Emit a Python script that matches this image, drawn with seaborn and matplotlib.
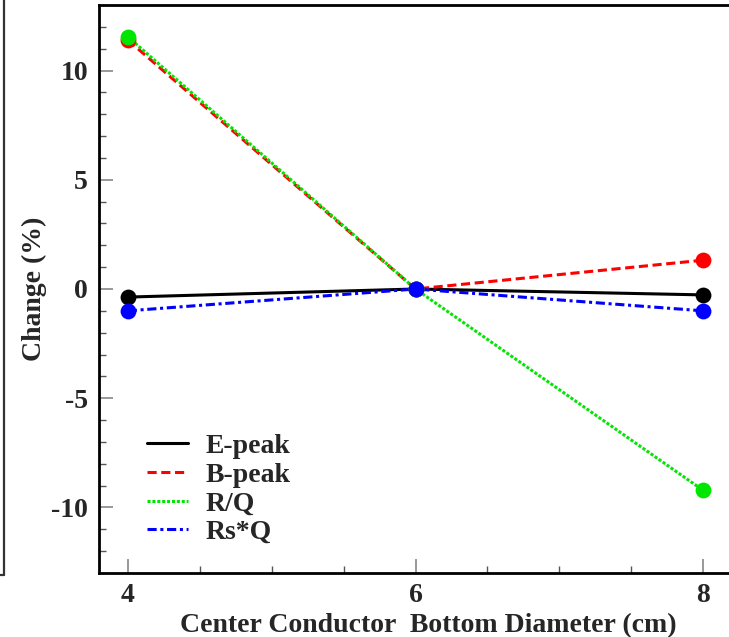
import matplotlib
matplotlib.use("Agg")
import matplotlib.pyplot as plt
from matplotlib.lines import Line2D
from matplotlib.ticker import MultipleLocator
import seaborn as sns
import pandas as pd

# Center conductor bottom diameter (cm) and relative change (%) of each quantity
diameters = [4, 6, 8]
e_peak = [-0.37, 0.0, -0.27]
b_peak = [11.4, 0.0, 1.32]
r_over_q = [11.55, 0.0, -9.22]
rs_q = [-1.0, 0.0, -1.0]

series_names = ["E-peak", "B-peak", "R/Q", "Rs*Q"]
series_values = [e_peak, b_peak, r_over_q, rs_q]
series_colors = ["#000000", "#ff0000", "#00e600", "#0000ff"]
series_dashes = ["-", (0, (3, 1.5)), (0, (1, 0.6)), (0, (3, 1.2, 1, 1.2))]

rows = []
for name, vals in zip(series_names, series_values):
    for d, v in zip(diameters, vals):
        rows.append({"Diameter": d, "Change": v, "Quantity": name})
df = pd.DataFrame(rows)

sns.set_theme(style="white")
plt.rcParams["font.family"] = ["Liberation Serif", "DejaVu Serif"]
plt.rcParams["font.weight"] = "bold"
plt.rcParams["axes.unicode_minus"] = False

fig = plt.figure(figsize=(7.29, 6.37), dpi=100)
ax = fig.add_axes([99 / 729, 1 - 573 / 637, (732 - 99) / 729, (573 - 5) / 637])

for name, color, ls in zip(series_names, series_colors, series_dashes):
    sub = df[df["Quantity"] == name]
    sns.lineplot(data=sub, x="Diameter", y="Change", ax=ax, color=color,
                 linestyle=ls, linewidth=2.2, label=name, legend=False)
for name, color in zip(series_names, series_colors):
    sub = df[df["Quantity"] == name]
    sns.scatterplot(data=sub, x="Diameter", y="Change", ax=ax, color=color,
                    s=130, edgecolor=color, linewidth=0, zorder=5, legend=False)

ax.set_xlim(3.8, 8.2)
ax.set_ylim(-13, 13)
ax.xaxis.set_major_locator(MultipleLocator(2))
ax.xaxis.set_minor_locator(MultipleLocator(0.5))
ax.yaxis.set_major_locator(MultipleLocator(5))
ax.yaxis.set_minor_locator(MultipleLocator(1))
ax.tick_params(which="major", direction="in", length=10, width=1.2,
               color="#888888", labelsize=20, pad=7)
ax.tick_params(which="minor", direction="in", length=5, width=1.0,
               color="#555555")
ax.tick_params(axis="y", which="major", pad=8)
ax.tick_params(axis="x", which="both", bottom=True, top=False)
ax.tick_params(axis="y", which="both", left=True, right=False)
for lbl in ax.get_xticklabels() + ax.get_yticklabels():
    lbl.set_fontweight("bold")

for side in ["left", "bottom", "top"]:
    ax.spines[side].set_color("black")
    ax.spines[side].set_linewidth(2.0)
ax.spines["right"].set_visible(False)

ax.set_xlabel("Center Conductor  Bottom Diameter (cm)", fontsize=20,
              fontweight="bold")
ax.set_ylabel("Change (%)", fontsize=20, fontweight="bold")
ax.xaxis.set_label_coords(0.52, -0.07)
ax.yaxis.set_label_coords(-0.082, 0.5)

handles = [Line2D([0], [0], color=c, linestyle=ls, linewidth=2.2)
           for c, ls in zip(series_colors, series_dashes)]
leg = ax.legend(handles, series_names, loc="lower left",
                bbox_to_anchor=(0.037, 0.005), frameon=False,
                prop={"family": "Liberation Serif", "weight": "bold", "size": 20},
                handlelength=1.45, handletextpad=0.65, labelspacing=0.12)

# Border of the neighbouring panel on the left edge
fig.add_artist(Line2D([4 / 729, 4 / 729], [1.0, 1 - 575 / 637],
                      transform=fig.transFigure, color="#333333", linewidth=1.6))
fig.add_artist(Line2D([0, 4 / 729], [1 - 575 / 637, 1 - 575 / 637],
                      transform=fig.transFigure, color="#333333", linewidth=1.6))

fig.savefig("out.png", dpi=100)
